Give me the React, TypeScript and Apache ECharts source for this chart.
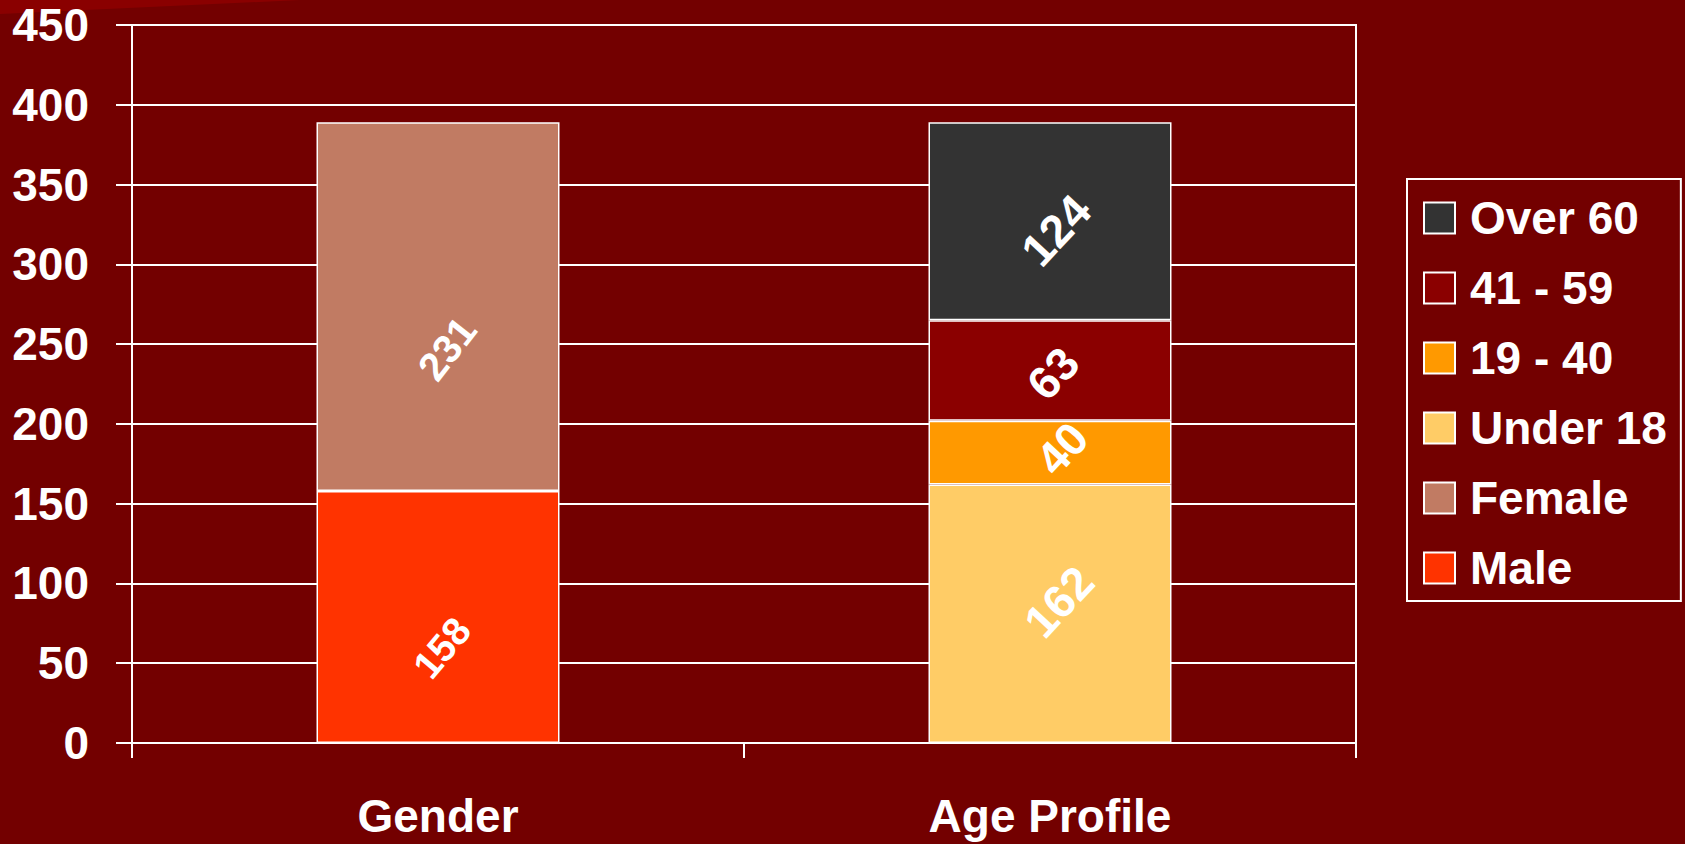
import React, { useEffect, useRef } from "react";
import * as echarts from "echarts";

const categories = ["Gender", "Age Profile"];
const male = [158, "-"];
const female = [231, "-"];
const under18 = ["-", 162];
const age19to40 = ["-", 40];
const age41to59 = ["-", 63];
const over60 = ["-", 124];
const legendOrder = ["Over 60", "41 - 59", "19 - 40", "Under 18", "Female", "Male"];

const FONT = "Liberation Sans, Arial, sans-serif";

export default function App() {
  const ref = useRef<HTMLDivElement>(null);
  useEffect(() => {
    const chart = echarts.init(ref.current!, undefined, { renderer: "svg" });
    const mk = (
      name: string,
      data: any[],
      color: string,
      fs: number,
      rot: number,
      screenOff: number[]
    ) => {
      const t = (rot * Math.PI) / 180;
      const [dx, dy] = screenOff;
      const off = [dx * Math.cos(t) - dy * Math.sin(t), dx * Math.sin(t) + dy * Math.cos(t)];
      return {
        name,
        type: "bar",
        stack: "total",
        data: data.map((v) => (v === "-" ? "-" : { value: v, label: { offset: off } })),
        barWidth: 243,
        itemStyle: { color, borderColor: "#ffffff", borderWidth: 1.5 },
        label: {
          show: true,
          position: "inside",
          rotate: rot,
          color: "#ffffff",
          fontSize: fs,
          fontWeight: "bold",
          fontFamily: FONT,
          formatter: "{c}",
        },
      };
    };
    chart.setOption({
      animation: false,
      backgroundColor: "#730000",
      graphic: [
        {
          type: "polygon",
          shape: { points: [[0, 0], [300, 0], [0, 14]] },
          style: { fill: "#8a0000" },
          z: -1,
        },
      ],
      grid: {
        left: 132,
        right: 329,
        top: 25,
        bottom: 101,
        show: true,
        borderColor: "#ffffff",
        borderWidth: 2,
        backgroundColor: "transparent",
      },
      legend: {
        orient: "vertical",
        left: 1407,
        top: 179,
        data: legendOrder,
        borderColor: "#ffffff",
        borderWidth: 2,
        padding: [14, 14, 8, 16],
        itemWidth: 31,
        itemHeight: 31,
        itemGap: 20,
        icon: "rect",
        itemStyle: { borderColor: "#ffffff", borderWidth: 2 },
        textStyle: {
          color: "#ffffff",
          fontSize: 46,
          fontWeight: "bold",
          fontFamily: FONT,
          lineHeight: 50,
          padding: [0, 0, 0, 10],
        },
      },
      xAxis: {
        type: "category",
        data: categories,
        axisLine: { show: true, lineStyle: { color: "#ffffff", width: 2 } },
        axisTick: { show: true, length: 15, lineStyle: { color: "#ffffff", width: 2 } },
        axisLabel: {
          color: "#ffffff",
          fontSize: 46,
          fontWeight: "bold",
          fontFamily: FONT,
          margin: 50,
        },
      },
      yAxis: {
        type: "value",
        min: 0,
        max: 450,
        interval: 50,
        axisLine: { show: true, lineStyle: { color: "#ffffff", width: 2 } },
        axisTick: { show: true, length: 16, lineStyle: { color: "#ffffff", width: 2 } },
        splitLine: { show: true, lineStyle: { color: "#ffffff", width: 2 } },
        axisLabel: {
          color: "#ffffff",
          fontSize: 46,
          fontWeight: "bold",
          fontFamily: FONT,
          margin: 43,
        },
      },
      series: [
        mk("Male", male, "#ff3300", 39, 50, [4, 31]),
        mk("Female", female, "#c17b63", 40, 52, [9, 42]),
        mk("Under 18", under18, "#ffcc66", 46, 47, [9, -12]),
        mk("19 - 40", age19to40, "#ff9900", 46, 47, [12, -4]),
        mk("41 - 59", age41to59, "#8b0000", 46, 47, [3, 3]),
        mk("Over 60", over60, "#333333", 46, 47, [6, 9]),
      ],
    });
    return () => chart.dispose();
  }, []);
  return (
    <div
      ref={ref}
      style={{ position: "absolute", left: 0, top: 0, width: 1685, height: 844 }}
    />
  );
}
